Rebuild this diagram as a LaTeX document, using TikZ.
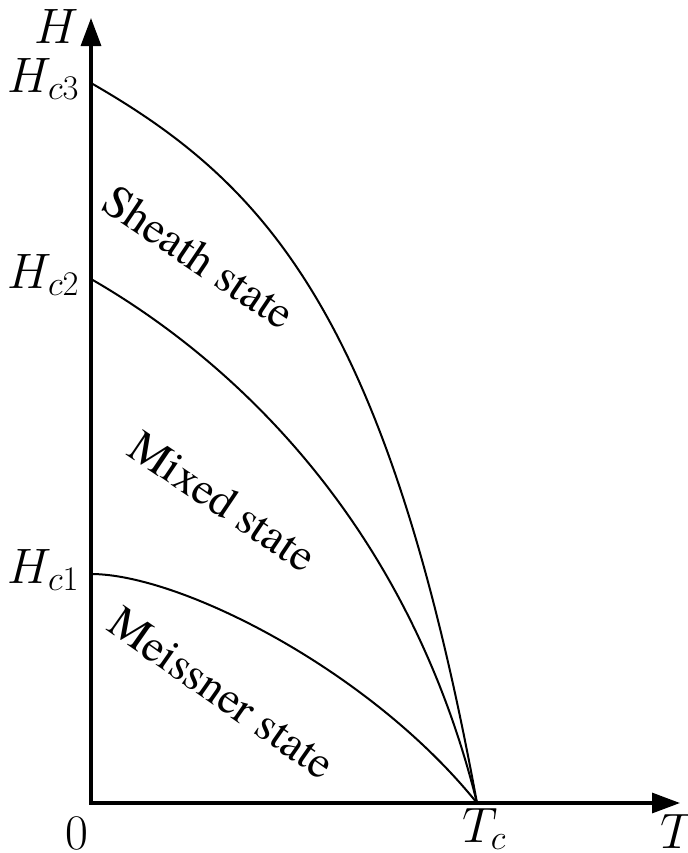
\documentclass[tikz,border=0pt]{standalone}
\usepackage{fontspec}
\IfFontExistsTF{TeX Gyre Termes}{\newfontfamily\statefont{TeX Gyre Termes}}{\newfontfamily\statefont{Latin Modern Roman}}
\usetikzlibrary{arrows.meta}
\begin{document}
\begin{tikzpicture}[x=0.5pt,y=-0.5pt,
  axis/.style={line width=1.6pt, {Triangle[length=14pt,width=10pt]}-{Triangle[length=14pt,width=10pt]}},
  curve/.style={line width=1pt},
  mlabel/.style={inner sep=0pt, font=\fontsize{24}{28}\selectfont},
  slabel/.style={inner sep=0pt, font=\statefont\fontsize{23}{27}\selectfont}]
\useasboundingbox (0,0) rectangle (688,853);
\coordinate (O) at (91,803);
\coordinate (Ytip) at (91,18);
\coordinate (Xtip) at (680,803);
\coordinate (Tc) at (477,803);
\coordinate (Hc1) at (91,574);
\coordinate (Hc2) at (91,279);
\coordinate (Hc3) at (91,83);
% axes
\draw[axis] (Ytip) -- (O) -- (Xtip);
% curves
\draw[curve] (Hc3) .. controls (265,183) and (387,313) .. (Tc);
\draw[curve] (Hc2) .. controls (221.5,354) and (405,512) .. (Tc);
\draw[curve] (Hc1) .. controls (180,574) and (370,670) .. (Tc);
% axis labels
\node[mlabel, anchor=base] (lH) at (57,43) {$H$};
\node[mlabel, anchor=base east] (l3) at (80,92) {$H_{c3}$};
\node[mlabel, anchor=base east] (l2) at (80,288) {$H_{c2}$};
\node[mlabel, anchor=base east] (l1) at (80,583) {$H_{c1}$};
\node[mlabel, anchor=base] (l0) at (77,849) {$0$};
\node[mlabel, anchor=base west] (lTc) at (462,842) {$T_c$};
\node[mlabel, anchor=base west] (lT) at (660,848) {$T$};
% state labels
\node[slabel, rotate=-34] (sheath) at (199,257) {Sheath state};
\node[slabel, rotate=-34] (mixed) at (223,501) {Mixed state};
\node[slabel, rotate=-35] (meissner) at (222,693) {Meissner state};
\end{tikzpicture}
\end{document}
